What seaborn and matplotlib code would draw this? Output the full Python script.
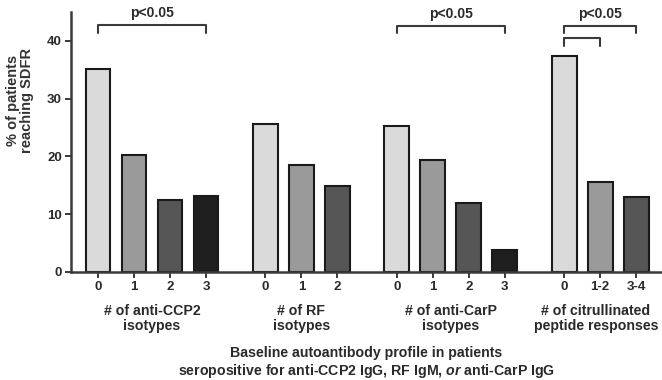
import pandas as pd
import numpy as np
import seaborn as sns
import matplotlib.pyplot as plt

# datos
grupos = ['# of anti-CCP2\nisotypes', '# of RF\nisotypes',
          '# of anti-CarP\nisotypes', '# of citrullinated\npeptide responses']
niveles = [['0', '1', '2', '3'],
           ['0', '1', '2'],
           ['0', '1', '2', '3'],
           ['0', '1-2', '3-4']]
valores = [[35.2, 20.3, 12.5, 13.2],
           [25.7, 18.6, 14.9],
           [25.3, 19.3, 12.0, 3.8],
           [37.3, 15.6, 13.0]]
tonos = {'0': '#dadada', '1': '#9a9a9a', '2': '#565656', '3': '#1e1e1e'}

# posiciones: separacion extra entre grupos
hueco = 1.65
filas = []
x = 0.0
centros = []
for g, (labs, vals) in enumerate(zip(niveles, valores)):
    xs = []
    for i, (lab, v) in enumerate(zip(labs, vals)):
        filas.append({'pos': x, 'nivel': lab, 'valor': v, 'tono': str(i)})
        xs.append(x)
        x += 1
    centros.append(np.mean(xs))
    x += hueco - 1
datos = pd.DataFrame(filas)

sns.set_style('ticks')
plt.rcParams['font.family'] = ['Liberation Sans', 'DejaVu Sans']
plt.rcParams['font.weight'] = 'bold'
plt.rcParams['mathtext.fontset'] = 'custom'
plt.rcParams['mathtext.it'] = 'Liberation Sans:italic:bold'
plt.rcParams['mathtext.rm'] = 'Liberation Sans:bold'

gris = '#3a3a3a'
texto = '#2a2a2a'
fig = plt.figure(figsize=(6.62, 3.8), dpi=100)
ax = fig.add_axes([71/662, 108/380, 591/662, 260/380])

sns.barplot(data=datos, x='pos', y='valor', hue='tono', palette=tonos,
            dodge=False, native_scale=True, legend=False, width=0.69,
            edgecolor='#1a1a1a', linewidth=1.5, ax=ax)

ax.set_xlim(-0.75, 15.67)
ax.set_ylim(0, 45)
ax.set_yticks([0, 10, 20, 30, 40])
ax.set_xticks(datos['pos'], datos['nivel'])
ax.tick_params(axis='both', labelsize=9.5, width=1.4, length=4, color=gris, pad=2.5)
for t in ax.get_xticklabels() + ax.get_yticklabels():
    t.set_fontweight('bold')
    t.set_color(texto)
sns.despine(ax=ax)
for s in ['left', 'bottom']:
    ax.spines[s].set_linewidth(1.8)
    ax.spines[s].set_color(gris)

ax.set_xlabel('')
ax.set_ylabel('% of patients\nreaching SDFR', fontsize=10.5, fontweight='bold',
              color='#333333', linespacing=1.05)
ax.yaxis.set_label_coords(-0.062, 0.66)

# etiquetas de grupo
trans = ax.get_xaxis_transform()
for i, (c, g) in enumerate(zip(centros, grupos)):
    if i == len(grupos) - 1:
        c = c - 0.12
    ax.text(c, -32/260, g, transform=trans, ha='center', va='top',
            fontsize=10.2, fontweight='bold', color=texto, linespacing=1.1)
ax.text(0.5, -74/260, 'Baseline autoantibody profile in patients',
        transform=ax.transAxes, ha='center', va='top', fontsize=10.2,
        fontweight='bold', color=texto)
ax.text(0.5, -90/260, 'seropositive for anti-CCP2 IgG, RF IgM, $\\mathit{or}$ anti-CarP IgG',
        transform=ax.transAxes, ha='center', va='top', fontsize=10.2,
        fontweight='bold', color=texto)

# corchetes de significacion
def corchete(x1, x2, y, baja, etiqueta=None):
    ax.plot([x1, x1, x2, x2], [y - baja, y, y, y - baja], color=gris,
            lw=1.5, clip_on=False)
    if etiqueta:
        ax.text((x1 + x2) / 2, y + 0.9, etiqueta, ha='center', va='bottom',
                fontsize=10, fontweight='bold', color=texto, clip_on=False)

p = datos['pos'].values
corchete(p[0], p[3], 42.7, 1.4, 'p<0.05')
corchete(p[7], p[10], 42.5, 1.2, 'p<0.05')
corchete(p[11], p[13], 42.5, 1.1, 'p<0.05')
corchete(p[11], p[12], 40.5, 1.3)

plt.savefig('out.png', dpi=100)
